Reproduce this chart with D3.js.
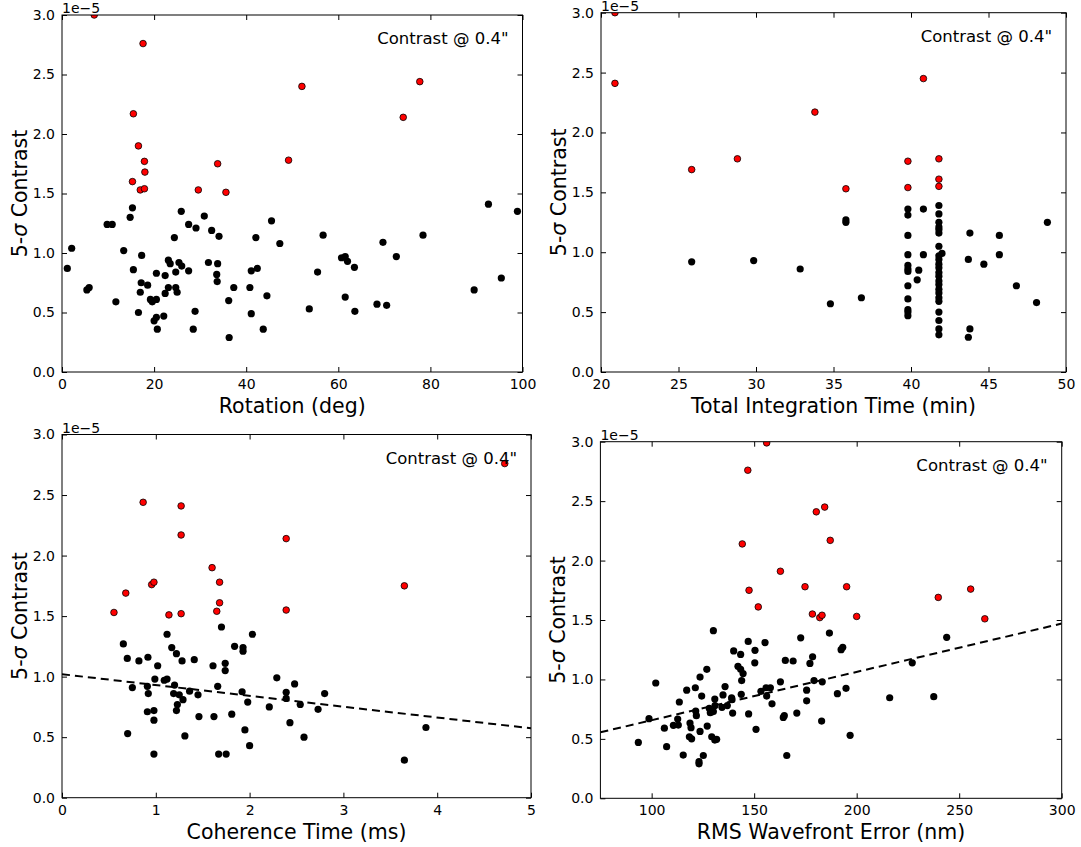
<!DOCTYPE html>
<html>
<head>
<meta charset="utf-8">
<script src="https://cdn.jsdelivr.net/npm/d3@7"></script>
<style>
  body { margin: 0; background: #fff; }
  svg { display: block; font-family: "DejaVu Sans", sans-serif; }
</style>
</head>
<body>
<div class="graph"></div>
<script>
// Contrast values are in units of 1e-5 (matches the offset label)
const redCut = 1.5;
const yTicks = [0, 0.5, 1.0, 1.5, 2.0, 2.5, 3.0];

// Rotation (deg) vs contrast
const rotationPts = [
  [1.15,.87],[2.1,1.04],[5.4,.69],[5.9,.71],[11.7,.59],[9.8,1.24],[10.9,1.24],[13.4,1.02],[14.8,1.30],[15.3,1.38],
  [15.5,.86],[17.3,.98],[17.2,.75],[17.0,.67],[18.6,.73],[16.6,.50],[19.2,.61],[19.6,.59],[20.5,.61],[20.5,.83],
  [20.0,.43],[20.5,.46],[20.7,.36],[22.1,.47],[22.4,.81],[22.4,.66],[23.1,.71],[23.1,.94],[23.5,.91],[24.4,1.13],
  [24.7,.71],[24.7,.84],[25.0,.67],[25.4,.92],[26.0,.89],[25.9,1.35],[27.5,.85],[27.5,1.24],[29.1,1.21],[28.9,.51],
  [28.5,.36],[30.9,1.31],[31.8,.92],[32.5,1.19],[33.8,.91],[34.1,1.14],[33.6,.82],[33.7,.76],[37.3,.71],[36.2,.60],
  [36.3,.29],[40.8,.71],[41.1,.49],[41.1,.85],[42.4,.87],[42.1,1.13],[43.7,.36],[44.5,.64],[45.5,1.27],[47.3,1.08],
  [56.7,1.15],[55.5,.84],[53.7,.53],[60.7,.96],[61.5,.97],[62.0,.93],[63.5,.88],[61.5,.63],[63.6,.51],[68.4,.57],
  [70.5,.56],[69.7,1.09],[72.6,.97],[78.4,1.15],[89.5,.69],[92.6,1.41],[95.4,.79],[98.9,1.35],
  [7.0,3.0],[17.6,2.76],[15.5,2.17],[16.6,1.90],[17.9,1.77],[18.0,1.68],[15.3,1.60],[17.0,1.53],[17.9,1.54],
  [29.6,1.53],[33.8,1.75],[35.6,1.51],[49.2,1.78],[52.1,2.40],[74.1,2.14],[77.7,2.44]
];
const rotationTicks = [0, 20, 40, 60, 80, 100];

// Total integration time (min) vs contrast
const integrationPts = [
  [25.85,.92],[29.85,.93],[32.85,.86],[34.8,.57],[35.8,1.27],[35.8,1.25],[36.8,.62],
  [39.8,1.36],[39.8,1.31],[39.8,1.14],[39.8,.98],[39.8,.89],[39.8,.86],[39.8,.84],[39.8,.72],[39.8,.61],[39.8,.52],[39.8,.50],[39.8,.47],
  [40.8,1.36],[40.8,.98],[40.5,.85],[40.4,.77],
  [41.8,1.39],[41.8,1.32],[41.8,1.25],[41.8,1.21],[41.8,1.19],[41.8,1.16],[41.8,1.05],[42.0,.99],[41.8,.97],[41.8,.94],
  [41.8,.90],[41.8,.87],[41.8,.83],[41.8,.80],[41.8,.76],[41.8,.73],[41.8,.69],[41.8,.66],[41.8,.62],[41.8,.59],
  [41.8,.50],[41.8,.43],[41.8,.36],[41.8,.31],
  [43.8,1.16],[43.7,.94],[43.8,.36],[43.7,.29],[44.7,.90],[45.7,1.14],[45.7,.98],[46.8,.72],[48.1,.58],[48.8,1.25],
  [20.9,3.0],[20.9,2.41],[25.85,1.69],[28.8,1.78],[33.8,2.17],[35.8,1.53],[39.8,1.76],[39.8,1.54],[40.8,2.45],
  [41.8,1.78],[41.8,1.61],[41.8,1.55]
];
const integrationTicks = [20, 25, 30, 35, 40, 45, 50];

// Coherence time (ms) vs contrast
const coherencePts = [
  [0.654,1.27],[0.696,1.15],[0.70,.53],[0.75,.91],[0.82,1.13],[0.916,1.16],[0.91,.92],[0.92,.86],[0.91,.71],[0.98,.72],
  [0.98,.64],[0.98,.36],[0.99,.98],[1.02,1.09],[1.09,.97],[1.12,.98],[1.12,1.35],[1.17,1.24],[1.22,1.19],[1.28,1.13],
  [1.20,.93],[1.19,.86],[1.25,.85],[1.29,.81],[1.23,.77],[1.22,.72],[1.31,.51],[1.36,.88],[1.41,1.14],[1.45,.85],
  [1.46,.67],[1.61,1.09],[1.62,.67],[1.66,.92],[1.70,1.41],[1.74,1.11],[1.74,1.05],[1.67,.36],[1.75,.36],[1.81,.69],
  [1.84,1.25],[1.93,1.24],[1.93,1.21],[1.92,.875],[1.98,.79],[1.95,.56],[2.00,.43],[2.03,1.35],[2.21,.75],[2.29,.99],
  [2.39,.87],[2.39,.82],[2.43,.62],[2.48,.94],[2.54,.77],[2.58,.50],[2.73,.73],[2.80,.86],[3.88,.58],[3.65,.31],
  [0.554,1.53],[0.68,1.69],[0.865,2.44],[0.956,1.76],[0.98,1.78],[1.14,1.51],[1.27,2.41],[1.27,2.17],[1.27,1.52],
  [1.60,1.90],[1.68,1.78],[1.68,1.61],[1.65,1.54],[2.39,2.14],[2.39,1.55],[3.65,1.75],[4.72,2.76]
];
const coherenceTicks = [0, 1, 2, 3, 4, 5];
const coherenceFit = [[0, 1.02], [5, 0.573]];

// RMS wavefront error (nm) vs contrast
const wavefrontPts = [
  [130.1,1.41],[147.1,1.32],[155.3,1.31],[140.0,1.24],[143.4,1.21],[150.4,1.245],[172.7,1.35],[186.7,1.39],[192.4,1.25],[193.2,1.27],
  [150.3,1.14],[165.2,1.16],[169.0,1.155],[177.2,1.135],[178.5,1.19],[126.9,1.085],[142.1,1.11],[143.4,1.085],[144.6,1.05],[123.6,1.02],
  [143.9,.99],[162.8,.98],[179.2,.99],[183.2,.98],[102.0,.97],[117.1,.91],[121.3,.93],[135.8,.94],[124.4,.86],[130.8,.835],
  [134.8,.87],[139.0,.846],[143.7,.875],[153.3,.90],[155.8,.93],[157.9,.93],[156.1,.86],[175.6,.91],[194.8,.925],[190.6,.88],
  [113.5,.81],[130.9,.78],[134.3,.765],[136.9,.78],[139.2,.83],[158.7,.795],[175.6,.82],[121.5,.734],[121.8,.695],[128.1,.757],
  [128.6,.72],[130.1,.73],[139.5,.717],[147.3,.71],[170.8,.717],[98.7,.67],[112.7,.667],[164.2,.68],[164.7,.695],[106.2,.59],
  [110.6,.614],[113.0,.616],[118.7,.633],[119.2,.594],[127.1,.608],[123.6,.563],[182.9,.65],[118.4,.518],[119.5,.50],[129.3,.518],
  [130.8,.49],[131.7,.496],[150.9,.58],[196.8,.53],[93.5,.47],[107.3,.434],[115.4,.364],[125.2,.36],[123.1,.308],[123.1,.29],
  [165.9,.36],[216.1,.846],[227.1,1.14],[237.6,.855],[243.9,1.354],
  [156.1,2.99],[146.9,2.76],[144.2,2.14],[147.5,1.75],[152.0,1.61],[162.8,1.91],[174.8,1.78],[178.4,1.55],[182.0,1.52],
  [183.1,1.54],[180.3,2.41],[184.4,2.45],[187.1,2.17],[195.1,1.78],[200.0,1.53],[239.8,1.69],[255.6,1.76],[262.5,1.51]
];
const wavefrontTicks = [100, 150, 200, 250, 300];
const wavefrontFit = [[75, 0.555], [300, 1.47]];

// Panel setup
const panels = [
  { id: 'p1', box: { l: 62, t: 15, r: 522.5, b: 372 }, xDomain: [0, 100], ticks: rotationTicks,
    pts: rotationPts, fit: null, xLabel: 'Rotation (deg)' },
  { id: 'p2', box: { l: 601, t: 12.7, r: 1066, b: 372 }, xDomain: [20, 50], ticks: integrationTicks,
    pts: integrationPts, fit: null, xLabel: 'Total Integration Time (min)' },
  { id: 'p3', box: { l: 62, t: 434.5, r: 531, b: 797.7 }, xDomain: [0, 5], ticks: coherenceTicks,
    pts: coherencePts, fit: coherenceFit, xLabel: 'Coherence Time (ms)' },
  { id: 'p4', box: { l: 600.4, t: 441.7, r: 1061.7, b: 798.3 }, xDomain: [75, 300], ticks: wavefrontTicks,
    pts: wavefrontPts, fit: wavefrontFit, xLabel: 'RMS Wavefront Error (nm)' }
];

const svg = d3.select('.graph')
  .append('svg')
  .attr('width', 1081)
  .attr('height', 847);

panels.forEach(p => {
  const w = p.box.r - p.box.l;
  const h = p.box.b - p.box.t;

  const g = svg.append('g')
    .attr('transform', `translate(${p.box.l},${p.box.t})`);

  const x = d3.scaleLinear().domain(p.xDomain).range([0, w]);
  const y = d3.scaleLinear().domain([0, 3]).range([h, 0]);

  g.append('clipPath')
    .attr('id', 'clip-' + p.id)
    .append('rect')
    .attr('width', w)
    .attr('height', h);

  const plot = g.append('g').attr('clip-path', `url(#clip-${p.id})`);

  // trend line
  if (p.fit) {
    plot.append('path')
      .datum(p.fit)
      .attr('d', d3.line().x(d => x(d[0])).y(d => y(d[1])))
      .attr('fill', 'none')
      .attr('stroke', '#000')
      .attr('stroke-width', 2)
      .attr('stroke-dasharray', '8,5');
  }

  // black points then red points on top
  plot.selectAll('.pt-black')
    .data(p.pts.filter(d => d[1] < redCut))
    .enter()
    .append('circle')
    .attr('class', 'pt-black')
    .attr('cx', d => x(d[0]))
    .attr('cy', d => y(d[1]))
    .attr('r', 3.6)
    .attr('fill', '#000');

  plot.selectAll('.pt-red')
    .data(p.pts.filter(d => d[1] >= redCut))
    .enter()
    .append('circle')
    .attr('class', 'pt-red')
    .attr('cx', d => x(d[0]))
    .attr('cy', d => y(d[1]))
    .attr('r', 3.3)
    .attr('fill', '#ff0000')
    .attr('stroke', '#000')
    .attr('stroke-width', 0.8);

  // axes, ticks pointing inward on every side
  const fmtX = d3.format('d');
  const fmtY = d3.format('.1f');
  const axes = [
    g.append('g').attr('transform', `translate(0,${h})`)
      .call(d3.axisBottom(x).tickValues(p.ticks).tickSizeInner(-5).tickSizeOuter(0).tickPadding(7).tickFormat(fmtX)),
    g.append('g')
      .call(d3.axisTop(x).tickValues(p.ticks).tickSizeInner(-5).tickSizeOuter(0).tickFormat('')),
    g.append('g')
      .call(d3.axisLeft(y).tickValues(yTicks).tickSizeInner(-5).tickSizeOuter(0).tickPadding(7).tickFormat(fmtY)),
    g.append('g').attr('transform', `translate(${w},0)`)
      .call(d3.axisRight(y).tickValues(yTicks).tickSizeInner(-5).tickSizeOuter(0).tickFormat(''))
  ];
  axes.forEach(a => {
    a.select('.domain').remove();
    a.selectAll('text').attr('font-size', 14).attr('font-family', '"DejaVu Sans", sans-serif').attr('fill', '#000');
    a.selectAll('line').attr('stroke', '#000');
  });

  // frame
  g.append('rect')
    .attr('width', w)
    .attr('height', h)
    .attr('fill', 'none')
    .attr('stroke', '#000')
    .attr('stroke-width', 1);

  // offset text
  g.append('text')
    .attr('x', 0)
    .attr('y', -2)
    .attr('font-size', 14)
    .text('1e\u22125');

  // annotation
  g.append('text')
    .attr('x', w - 14)
    .attr('y', 29)
    .attr('text-anchor', 'end')
    .attr('font-size', 16.5)
    .text('Contrast @ 0.4"');

  // x title
  g.append('text')
    .attr('x', w / 2)
    .attr('y', h + 41)
    .attr('text-anchor', 'middle')
    .attr('font-size', 20.5)
    .text(p.xLabel);

  // y title
  const yl = g.append('text')
    .attr('transform', `translate(${-35},${h / 2}) rotate(-90)`)
    .attr('text-anchor', 'middle')
    .attr('font-size', 20.5);
  yl.append('tspan').text('5-');
  yl.append('tspan').attr('font-style', 'italic').text('\u03c3');
  yl.append('tspan').text(' Contrast');
});
</script>
</body>
</html>
